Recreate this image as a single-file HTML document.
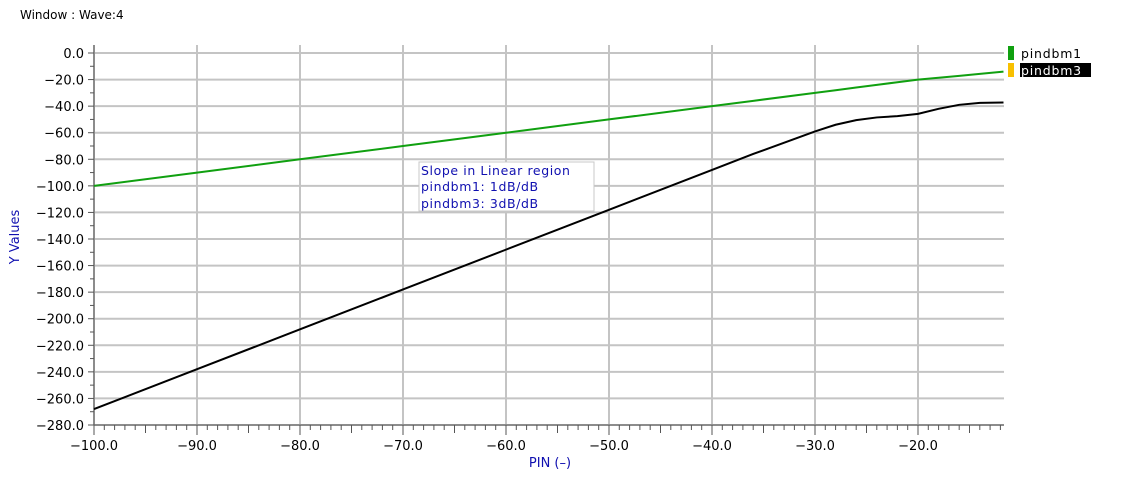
<!DOCTYPE html>
<html><head><meta charset="utf-8"><style>
body{margin:0;background:#fff;}
svg{display:block;font-family:"DejaVu Sans","Liberation Sans",sans-serif;}
</style></head><body>
<svg id="c" width="1131" height="497">
<text x="20" y="19" font-size="12" fill="#000">Window : Wave:4</text>
<g id="grid"></g><g id="axes"></g><g id="series"></g>
<rect x="419" y="162" width="175" height="49" fill="#fff" stroke="#c8c8c8"/>
<g font-size="12.5" fill="#1010b0" letter-spacing="0.6">
<text x="421" y="175">Slope in Linear region</text>
<text x="421" y="191">pindbm1: 1dB/dB</text>
<text x="421" y="208">pindbm3: 3dB/dB</text>
</g>
<rect x="1008" y="46" width="6" height="14" fill="#10a010"/>
<text x="1021" y="58" font-size="12.5" letter-spacing="0.8">pindbm1</text>
<rect x="1008" y="63" width="6" height="14" fill="#f8c000"/>
<rect x="1020" y="63" width="71" height="14" fill="#000"/>
<text x="1021" y="75" font-size="12.5" letter-spacing="0.8" fill="#fff">pindbm3</text>
<text transform="translate(19,237) rotate(-90)" text-anchor="middle" font-size="13" fill="#1010b0">Y Values</text>
<text x="550" y="467" text-anchor="middle" font-size="13" fill="#1010b0">PIN (–)</text>
</svg>
<script>
const xTicks=[-100,-90,-80,-70,-60,-50,-40,-30,-20];
const yTicks=[0,-20,-40,-60,-80,-100,-120,-140,-160,-180,-200,-220,-240,-260,-280];
const pinX=[-100,-90,-80,-70,-60,-50,-40,-36,-30,-28,-26,-24,-22,-20,-18,-16,-14,-11.7];
const pindbm1=[-100,-90,-80,-70,-60,-50,-40,-36,-30,-28,-26,-24,-22,-20,-18.6,-17.2,-15.7,-14];
const pindbm3=[-268,-238,-208,-178,-148,-118,-88,-76,-59,-54,-50.5,-48.5,-47.5,-45.8,-42,-39,-37.5,-37.3];
const X0=94,X1=1004,Y0=53,YB=425,XMIN=-100,XMAX=-11.65;
const sx=v=>X0+(v-XMIN)/(XMAX-XMIN)*(X1-X0);
const sy=v=>Y0+(0-v)/280*(YB-Y0);
const NS="http://www.w3.org/2000/svg";
function mk(t,a,p){const e=document.createElementNS(NS,t);for(const k in a)e.setAttribute(k,a[k]);p.appendChild(e);return e;}
const grid=document.getElementById('grid'),axes=document.getElementById('axes'),ser=document.getElementById('series');
yTicks.forEach(v=>{
 const g=mk('line',{x1:X0,x2:X1,y1:sy(v),y2:sy(v),stroke:'#c4c4c4','stroke-width':2},grid);
 
 
 mk('line',{x1:X0-6,x2:X0,y1:sy(v),y2:sy(v),stroke:'#555'},axes);
 const t=mk('text',{x:X0-10,y:sy(v)+5,'text-anchor':'end','font-size':13},axes);
 
 
 t.textContent=v.toFixed(1).replace('-','−');
 if(v>-280) mk('line',{x1:X0-4,x2:X0,y1:sy(v-10),y2:sy(v-10),stroke:'#555'},axes);
});
xTicks.forEach(v=>{
 const g=mk('line',{x1:sx(v),x2:sx(v),y1:Y0-8,y2:YB,stroke:'#c4c4c4','stroke-width':2},grid);
 
 
 const t=mk('text',{x:sx(v),y:YB+25,'text-anchor':'middle','font-size':13},axes);
 
 
 t.textContent=v.toFixed(1).replace('-','−');
});
for(let v=-100;v<=-12;v++){
 const L=v%10===0?10:(v%5===0?8:5);
 mk('line',{x1:sx(v),x2:sx(v),y1:YB,y2:YB+L,stroke:'#555'},axes);
}
mk('line',{x1:X0,x2:X1,y1:YB,y2:YB,stroke:'#555'},axes);
mk('line',{x1:X0,x2:X0,y1:Y0-8,y2:YB,stroke:'#555'},axes);
function line(arr,col,name){
 const p=mk('polyline',{points:pinX.map((x,i)=>sx(x)+','+sy(arr[i])).join(' '),fill:'none',stroke:col,'stroke-width':2},ser);
 
 
}
line(pindbm1,'#10a010','series-pindbm1');
line(pindbm3,'#000','series-pindbm3');
</script>
</body></html>
